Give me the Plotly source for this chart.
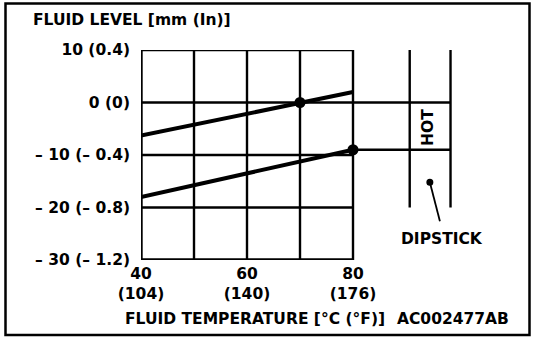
import plotly.graph_objects as go

# ---- data -------------------------------------------------------------
temp_c = [40, 80]                      # fluid temperature range, deg C
level_upper = [-6.3, 2.0]              # upper limit line, mm
level_lower = [-18.0, -9.0]            # lower limit line, mm
hot_temp = [70, 80]                    # HOT check points, deg C
hot_level = [0, -9]                    # HOT check points, mm

grid_temps = [50, 60, 70, 80]
grid_levels = [10, 0, -10, -20]

y_tickvals = [10, 0, -10, -20, -30]
y_ticktext = ["10 (0.4)", "0 (0)", "– 10 (– 0.4)", "– 20 (– 0.8)", "– 30 (– 1.2)"]
x_tickvals = [40, 60, 80]
x_ticktext = ["40<br>(104)", "60<br>(140)", "80<br>(176)"]

# ---- page geometry ----------------------------------------------------
W, H = 560, 342
L, R, T, B = 141, 101, 50, 82
PW, PH = W - L - R, H - T - B
FONT = "DejaVu Sans"
FS = 15.5
BLACK = "black"


def px(x):
    """page x pixel -> paper coordinate"""
    return (x - L) / PW


def py(y):
    """page y pixel -> paper coordinate"""
    return (H - B - y) / PH


fig = go.Figure()

# limit lines
for lv in (level_upper, level_lower):
    fig.add_trace(go.Scatter(x=temp_c, y=lv, mode="lines",
                             line=dict(color=BLACK, width=4),
                             showlegend=False, hoverinfo="skip"))

# check-point dots
fig.add_trace(go.Scatter(x=hot_temp, y=hot_level, mode="markers",
                         marker=dict(color=BLACK, size=11),
                         showlegend=False, hoverinfo="skip"))

shapes = []
x_lo, x_hi = temp_c[0], temp_c[-1]
y_lo, y_hi = y_tickvals[-1], y_tickvals[0]

# grid
for g in grid_levels:
    shapes.append(dict(type="line", xref="x", yref="y", x0=x_lo, x1=x_hi, y0=g, y1=g,
                       line=dict(color=BLACK, width=2.4), layer="below"))
for g in grid_temps:
    shapes.append(dict(type="line", xref="x", yref="y", x0=g, x1=g, y0=y_lo, y1=y_hi,
                       line=dict(color=BLACK, width=2.4), layer="below"))
# axes
shapes.append(dict(type="line", xref="x", yref="y", x0=x_lo, x1=x_lo, y0=y_lo - 0.2, y1=y_hi,
                   line=dict(color=BLACK, width=3.4)))
shapes.append(dict(type="line", xref="x", yref="y", x0=x_lo, x1=x_hi, y0=y_lo, y1=y_lo,
                   line=dict(color=BLACK, width=3.4)))

# dipstick
stick_l, stick_r = 90.7, 98.4
stick_bottom = -20.0
for sx in (stick_l, stick_r):
    shapes.append(dict(type="line", xref="x", yref="y", x0=sx, x1=sx, y0=stick_bottom, y1=y_hi,
                       line=dict(color=BLACK, width=2.4)))
for hx, hy in zip(hot_temp, hot_level):
    shapes.append(dict(type="line", xref="x", yref="y", x0=x_hi, x1=stick_r, y0=hy, y1=hy,
                       line=dict(color=BLACK, width=2.6)))
# pointer
shapes.append(dict(type="line", xref="x", yref="y", x0=94.5, x1=96.4, y0=-15.2, y1=-22.6,
                   line=dict(color=BLACK, width=1.8)))
shapes.append(dict(type="circle", xref="x", yref="y", xsizemode="pixel", ysizemode="pixel",
                   xanchor=94.5, yanchor=-15.2, x0=-3.5, x1=3.5, y0=-3.5, y1=3.5,
                   fillcolor=BLACK, line=dict(color=BLACK, width=0)))

# outer frame
shapes.append(dict(type="rect", xref="paper", yref="paper",
                   x0=px(5.5), x1=px(529.5), y0=py(335), y1=py(3.5),
                   line=dict(color=BLACK, width=2.5)))

font = dict(family=FONT, size=FS, color=BLACK, weight="bold")
annotations = [
    dict(text="FLUID LEVEL [mm (In)]", x=px(31), y=py(20), xanchor="left", yanchor="middle"),
    dict(text="FLUID TEMPERATURE [°C (°F)]", x=px(255), y=py(319), xanchor="center", yanchor="middle"),
    dict(text="AC002477AB", x=px(453), y=py(319), xanchor="center", yanchor="middle"),
    dict(text="DIPSTICK", x=px(442), y=py(239), xanchor="center", yanchor="middle"),
    dict(text="HOT", x=px(428), y=py(128), xanchor="center", yanchor="middle", textangle=-90),
]
for a in annotations:
    a.update(xref="paper", yref="paper", showarrow=False, font=font)

fig.update_layout(
    width=W, height=H,
    margin=dict(l=L, r=R, t=T, b=B, pad=0),
    paper_bgcolor="white", plot_bgcolor="white",
    shapes=shapes, annotations=annotations,
    xaxis=dict(range=[40, 100], showgrid=False, zeroline=False, showline=False,
               tickvals=x_tickvals, ticktext=x_ticktext, ticks="",
               tickfont=font, ticklabelstandoff=2, fixedrange=True),
    yaxis=dict(range=[-30, 10], showgrid=False, zeroline=False, showline=False,
               tickvals=y_tickvals, ticktext=y_ticktext, ticks="",
               tickfont=font, ticklabelstandoff=10, fixedrange=True),
)

fig.write_html("out.html", config=dict(displayModeBar=False))
